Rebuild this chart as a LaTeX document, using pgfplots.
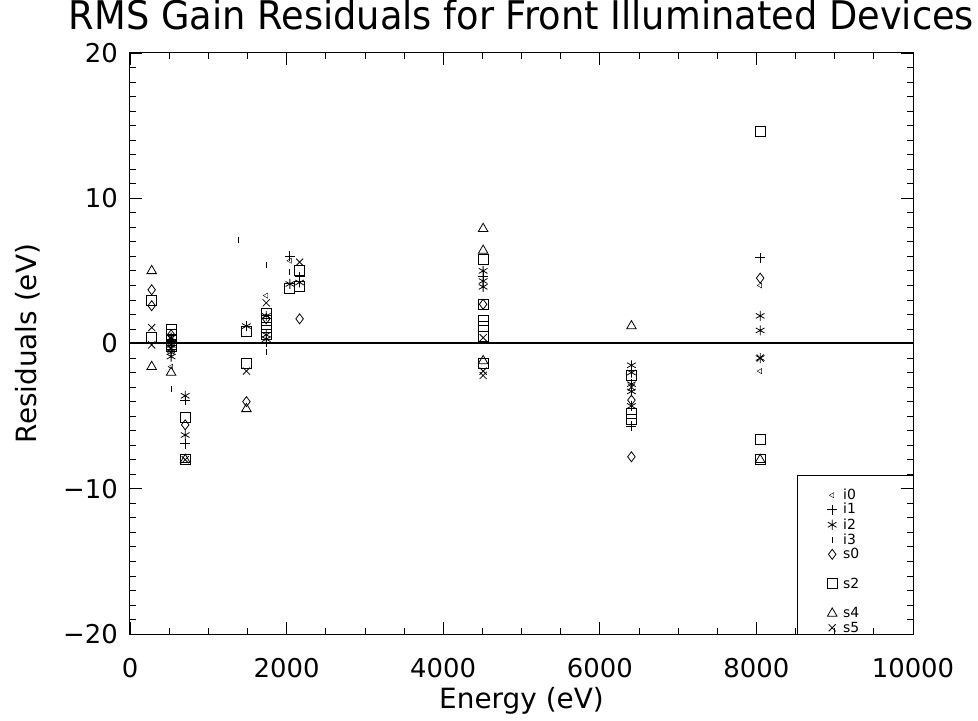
\documentclass[border=0pt]{standalone}
\usepackage{pgfplots}
\pgfplotsset{compat=1.18}
\usepackage{fontspec}
\setmainfont{DejaVu Sans}
\begin{document}
\begin{tikzpicture}
\useasboundingbox (-130bp,-87bp) rectangle (848bp,634bp);
\begin{axis}[
  scale only axis, width=783bp, height=581bp,
  xmin=0, xmax=10000, ymin=-20, ymax=20,
  scaled x ticks=false, scaled y ticks=false,
  axis line style={line width=1bp},
  xtick={0,2000,4000,6000,8000,10000},
  xticklabels={0,2000,4000,6000,8000,10000},
  ytick={-20,-10,0,10,20},
  yticklabels={−20,−10,0,10,20},
  minor x tick num=3, minor y tick num=9,
  tick align=inside, major tick length=12bp, minor tick length=6bp,
  every tick/.style={black, line width=0.8bp},
  ticklabel style={font=\fontsize{26}{26}\selectfont, inner sep=0pt},
  xticklabel style={anchor=north, yshift=-24bp},
  yticklabel style={anchor=east, xshift=-12bp},
  every axis x label/.style={at={(axis description cs:0.5,-0.1274)}, anchor=base},
  every axis y label/.style={at={(axis description cs:-0.1188,0.5)}, rotate=90, anchor=base},
  label style={font=\fontsize{28}{28}\selectfont},
  xlabel={Energy (eV)},
  ylabel={Residuals (eV)},
  title style={at={(axis description cs:0.5,1.031)}, anchor=base, inner sep=0pt},
  title={\resizebox{905bp}{30bp}{RMS Gain Residuals for Front Illuminated Devices}},
  legend style={at={(axis cs:8889,-10.0)}, anchor=north west, draw=none, fill=none,
    inner sep=0pt, font=\fontsize{14}{14}\selectfont, row sep=3.9bp, column sep=6bp,
    nodes={inner sep=0pt, text height=10.5bp, text depth=0bp}},
  legend cell align=left,
  legend image code/.code={\draw[#1] plot coordinates {(6bp,-1bp)};},
  every axis plot/.append style={only marks, black, mark options={solid, line width=0.8bp, fill=none}},
]
\addplot[line width=2bp, forget plot, no marks, sharp plot] coordinates {(0,0) (10000,0)};
\draw[line width=1bp] (axis cs:10000,-9.06) -- (axis cs:8519,-9.06) -- (axis cs:8519,-20);

% i0
\addplot[mark=triangle, mark size=3bp, mark options={rotate=90}] coordinates {
 (525,-1.6) (1740,3.3) (2042,5.7) (8048,4.0) (8048,-1.9)};
\addlegendentry{i0}
% i1
\addplot[mark=+, mark size=5bp] coordinates {
 (525,0.2) (525,-0.4) (705,-3.9) (705,-6.9) (1487,1.2) (1740,0.1) (2042,6.0)
 (2166,4.6) (4510,4.6) (6404,-5.7) (8048,5.9)};
\addlegendentry{i1}
% i2
\addplot[mark=asterisk, mark size=5bp] coordinates {
 (525,0.4) (525,-0.1) (525,-0.6) (525,-0.9) (705,-3.6) (705,-6.3) (1487,1.2)
 (1740,1.9) (1740,0.6) (1740,0.3) (2042,4.1) (2166,4.2) (4510,5.0) (4510,4.3)
 (4510,3.9) (6404,-1.5) (6404,-2.0) (6404,-2.8) (6404,-3.3) (6404,-4.3)
 (8048,1.9) (8048,0.9) (8048,-1.0)};
\addlegendentry{i2}
% i3
\addplot[mark=|, mark size=3bp] coordinates {
 (1380,7.1) (525,-3.1) (1740,5.4) (1740,-0.6) (2042,4.9)};
\addlegendentry{i3}
% s0
\addplot[mark=diamond, mark size=5bp] coordinates {
 (277,3.7) (277,2.6) (525,0.6) (525,0.0) (705,-5.6) (1487,-4.0) (1740,1.7)
 (2166,1.7) (4510,2.7) (6404,-3.9) (6404,-7.8) (8048,4.5)};
\addlegendentry{s0}
\addlegendimage{empty legend}\addlegendentry{}
% s2
\addplot[mark=square, mark size=5bp] coordinates {
 (277,3.0) (277,0.45) (525,1.0) (525,0.6) (525,0.2) (525,-0.2) (705,-5.1)
 (705,-8.0) (1487,0.8) (1487,-1.35) (1740,2.1) (1740,1.6) (1740,1.1) (1740,0.6)
 (2042,3.8) (2166,5.0) (2166,3.9) (4510,5.8) (4510,2.7) (4510,1.6) (4510,1.2)
 (4510,0.5) (4510,-1.4) (6404,-2.2) (6404,-4.8) (6404,-5.2) (8048,14.6)
 (8048,-6.6) (8048,-8.0)};
\addlegendentry{s2}
\addlegendimage{empty legend}\addlegendentry{}
% s4
\addplot[mark=triangle, mark size=5.5bp] coordinates {
 (277,5.0) (277,-1.6) (525,-2.0) (705,-8.0) (1487,-4.5) (4510,7.9) (4510,6.4)
 (4510,-1.2) (6404,1.2) (8048,-8.0)};
\addlegendentry{s4}
% s5
\addplot[mark=x, mark size=5bp] coordinates {
 (277,1.1) (277,-0.1) (525,-0.4) (705,-8.0) (1487,-1.9) (1740,2.8) (2166,5.6)
 (4510,0.4) (4510,-1.9) (4510,-2.2) (6404,-3.0) (8048,-1.0)};
\addlegendentry{s5}
\end{axis}
\end{tikzpicture}
\end{document}
